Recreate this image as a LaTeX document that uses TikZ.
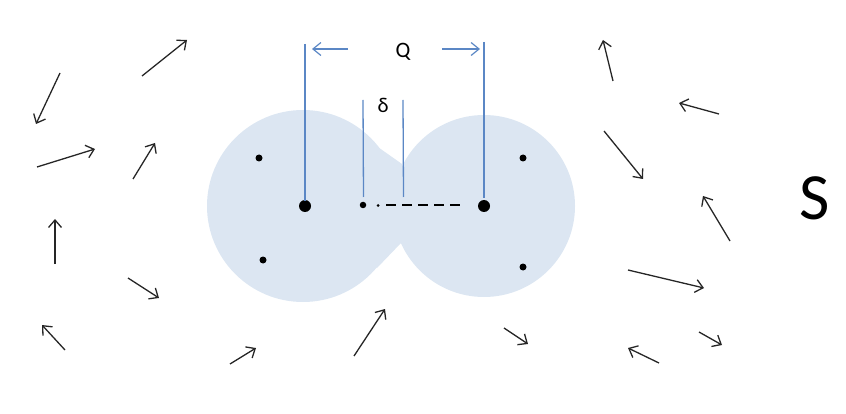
\documentclass[tikz,border=0pt]{standalone}
\usepackage{fontspec}
\setmainfont{Carlito}
\usetikzlibrary{arrows.meta}
\definecolor{blobfill}{HTML}{DCE6F2}
\definecolor{dimblue}{HTML}{5B87C5}
\begin{document}
\begin{tikzpicture}[x=1pt,y=-1pt,
  fieldarrow/.style={draw=black!85, line width=1.3pt, -{Straight Barb[length=7.5pt,width=13pt,line width=1.3pt]}},
  dimline/.style={draw=dimblue, line width=1.3pt},
  dimarrow/.style={draw=dimblue, line width=1.2pt, -{Straight Barb[length=8pt,width=13pt,line width=1.2pt]}},
  bigdot/.style={circle, fill=black, inner sep=0pt, minimum size=12pt},
  smalldot/.style={circle, fill=black, inner sep=0pt, minimum size=7pt},
  lbl/.style={inner sep=0pt, text=black}]
\useasboundingbox (0,0) rectangle (846,414);
% blob
\fill[blobfill] (303,206) circle (96);
\fill[blobfill] (484,206) circle (91);
\fill[blobfill] (375,145) -- (402,164) -- (401,243) -- (377,268) -- (303,206) -- cycle;
% dots
\node[bigdot] (cl) at (305,206) {};
\node[bigdot] (cr) at (484,206) {};
\node[smalldot, minimum size=6.5pt] (cm) at (363,205) {};
\node[smalldot] (d1) at (259,158) {};
\node[smalldot] (d2) at (263,260) {};
\node[smalldot] (d3) at (523,158) {};
\node[smalldot] (d4) at (523,267) {};
% dash-dot line
\coordinate (dotp) at (378,205.5);
\coordinate (dashs) at (386,205.5);
\coordinate (dashe) at (462,205.5);
\fill[black] (dotp) circle (1.5);
\draw[black, line width=2pt, dash pattern=on 10pt off 6pt] (dashs) -- (dashe);
% dimension lines
\coordinate (qlt) at (305,44);
\coordinate (qlb) at (305,201);
\coordinate (qrt) at (484,42);
\coordinate (qrb) at (484,198);
\draw[dimline] (qlt) -- (qlb);
\draw[dimline] (qrt) -- (qrb);
\coordinate (qa1s) at (348,49);
\coordinate (qa1e) at (312,49);
\coordinate (qa2s) at (442,49);
\coordinate (qa2e) at (480,49);
\draw[dimarrow] (qa1s) -- (qa1e);
\draw[dimarrow] (qa2s) -- (qa2e);
\node[lbl, font=\fontsize{22}{24}\selectfont] (Q) at (403,52) {Q};
\coordinate (dlt) at (363,100);
\coordinate (dlb) at (363.5,197);
\coordinate (drt) at (403,100);
\coordinate (drb) at (403.5,197);
\draw[dimline] (dlt) -- (dlb);
\draw[dimline] (drt) -- (drb);
\node[lbl, font=\fontsize{21}{24}\selectfont] (delta) at (383,105) {δ};
% S
\node[lbl, font=\fontsize{66}{70}\selectfont] (S) at (815,198) {S};
% field arrows
\foreach \i/\xa/\ya/\xb/\yb in {
  1/60/73/36/124, 2/142/76/187/40, 3/37/167/95/149, 4/133/179/155/143,
  5/55/264/55/219, 6/128/278/159/298, 7/65/350/42/325,
  8/230/364/256/348, 9/354/356/385/309, 10/504/328/528/344,
  11/613/81/603/40, 12/719/114/679/103, 13/604/131/643/179,
  14/730/241/703/196, 15/628/270/704/288, 16/699/332/722/345,
  17/659/363/628/348} {
  \coordinate (f\i s) at (\xa,\ya);
  \coordinate (f\i e) at (\xb,\yb);
  \draw[fieldarrow] (f\i s) -- (f\i e);
}
\end{tikzpicture}
\end{document}
